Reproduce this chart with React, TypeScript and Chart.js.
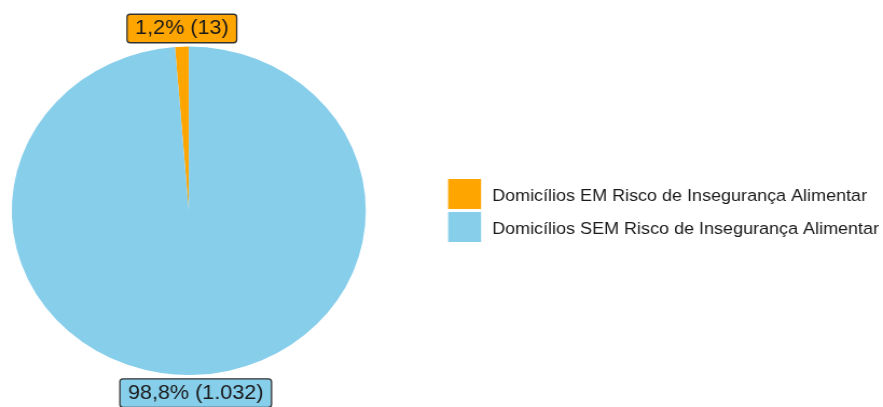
import React, { useEffect, useRef } from "react";
import { Chart, registerables } from "chart.js";

Chart.register(...registerables);

// ---- data ----
const categories = [
  "Domicílios EM Risco de Insegurança Alimentar",
  "Domicílios SEM Risco de Insegurança Alimentar",
];
const counts = [13, 1032];
const colors = ["#FFA500", "#87CEEB"];

// ---- layout constants ----
const W = 883;
const H = 407;
const STRETCH = 1.078; // reference is horizontally stretched
const CW = Math.round(W / STRETCH);

const total = counts.reduce((a, b) => a + b, 0);
const fmtInt = (n: number) => String(n).replace(/\B(?=(\d{3})+(?!\d))/g, ".");
const fmtPct = (v: number) => v.toFixed(1).replace(".", ",");
const sliceTexts = counts.map((c) => `${fmtPct((c / total) * 100)}% (${fmtInt(c)})`);

function roundRectPath(ctx: CanvasRenderingContext2D, x: number, y: number, w: number, h: number, r: number) {
  ctx.beginPath();
  ctx.moveTo(x + r, y);
  ctx.lineTo(x + w - r, y);
  ctx.arcTo(x + w, y, x + w, y + r, r);
  ctx.lineTo(x + w, y + h - r);
  ctx.arcTo(x + w, y + h, x + w - r, y + h, r);
  ctx.lineTo(x + r, y + h);
  ctx.arcTo(x, y + h, x, y + h - r, r);
  ctx.lineTo(x, y + r);
  ctx.arcTo(x, y, x + r, y, r);
  ctx.closePath();
}

const sliceLabelPlugin = {
  id: "sliceLabels",
  afterDatasetsDraw(chart: any) {
    const ctx: CanvasRenderingContext2D = chart.ctx;
    const meta = chart.getDatasetMeta(0);
    ctx.save();
    ctx.font = "20px 'Liberation Sans', Arial, sans-serif";
    ctx.textAlign = "center";
    ctx.textBaseline = "middle";
    meta.data.forEach((arc: any, i: number) => {
      const p = arc.getProps(["x", "y", "startAngle", "endAngle", "outerRadius"], true);
      const mid = (p.startAngle + p.endAngle) / 2;
      const px = p.x + Math.cos(mid) * p.outerRadius;
      const py = p.y + Math.sin(mid) * p.outerRadius;
      const text = sliceTexts[i];
      const tw = ctx.measureText(text).width;
      const bw = tw + 15;
      const bh = 28.5;
      const bx = px - bw / 2;
      const by = Math.sin(mid) < 0 ? py - 4 - bh : py + 4;
      roundRectPath(ctx, bx, by, bw, bh, 3);
      ctx.fillStyle = colors[i];
      ctx.fill();
      ctx.lineWidth = 1.3;
      ctx.strokeStyle = "#333333";
      ctx.stroke();
      ctx.fillStyle = "#1a1a1a";
      ctx.fillText(text, px, by + bh / 2 + 0.5);
    });
    ctx.restore();
  },
};

const legendPlugin = {
  id: "customLegend",
  afterDraw(chart: any) {
    const ctx: CanvasRenderingContext2D = chart.ctx;
    const boxX = 415.6;
    const boxW = 30.6;
    const boxH = 30;
    const top = 179;
    const gap = 3;
    const textX = 456.4;
    ctx.save();
    ctx.font = "16.7px 'Liberation Sans', Arial, sans-serif";
    ctx.textAlign = "left";
    ctx.textBaseline = "middle";
    categories.forEach((label, i) => {
      const by = top + i * (boxH + gap);
      ctx.fillStyle = colors[i];
      ctx.fillRect(boxX, by, boxW, boxH);
      ctx.fillStyle = "#1a1a1a";
      ctx.fillText(label, textX, by + boxH / 2 + 2.5);
    });
    ctx.restore();
  },
};

export default function App() {
  const ref = useRef<HTMLCanvasElement | null>(null);

  useEffect(() => {
    if (!ref.current) return;
    const chart = new Chart(ref.current, {
      type: "pie",
      data: {
        labels: categories,
        datasets: [
          {
            data: counts,
            backgroundColor: colors,
            borderWidth: 0,
          },
        ],
      },
      options: {
        responsive: false,
        animation: false,
        rotation: (-360 * counts[0]) / total,
        layout: {
          padding: { left: 10.9, top: 46.6, right: CW - 339.3, bottom: 32 },
        },
        plugins: {
          legend: { display: false },
          tooltip: { enabled: false },
        },
      },
      plugins: [sliceLabelPlugin, legendPlugin],
    } as any);
    return () => chart.destroy();
  }, []);

  return (
    <div style={{ position: "absolute", left: 0, top: 0, width: W, height: H, background: "#ffffff", overflow: "hidden" }}>
      <canvas
        ref={ref}
        width={CW}
        height={H}
        style={{ width: `${W}px`, height: `${H}px`, display: "block" }}
      />
    </div>
  );
}
